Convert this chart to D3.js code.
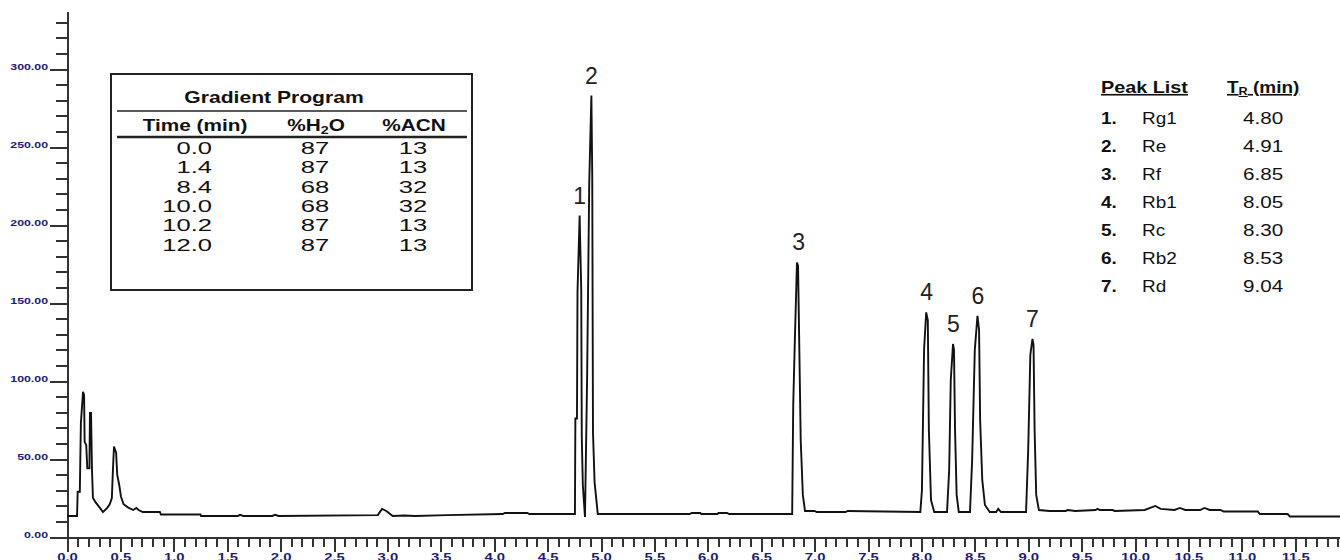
<!DOCTYPE html>
<html>
<head>
<meta charset="utf-8">
<script src="https://cdn.jsdelivr.net/npm/d3@7"></script>
<style>
  body { margin: 0; background: #fff; }
  svg { display: block; font-family: "Liberation Sans", Arial, sans-serif; }
  .axe path, .axe line { stroke: #333; stroke-width: 2; shape-rendering: crispEdges; }
  .axe text { fill: #1c1c7c; font-weight: bold; }
</style>
</head>
<body>
<svg id="graph" width="1340" height="560"></svg>
<script>
// chromatogramme : temps (min) et signal
var traceT = [0,0.094,0.10,0.12,0.13,0.15,0.16,0.165,0.18,0.19,0.21,0.215,0.225,0.234,0.243,0.27,0.31,0.337,0.375,0.40,
  0.42,0.43,0.44,0.46,0.47,0.49,0.505,0.53,0.57,0.62,0.65,0.67,0.71,0.87,0.88,1.25,1.255,1.60,1.62,1.65,
  1.92,1.95,1.98,2.91,2.95,2.99,3.05,3.16,3.26,3.56,4.08,4.10,4.31,4.33,4.756,4.76,4.775,4.78,4.80,4.81,
  4.815,4.82,4.83,4.85,4.87,4.89,4.91,4.918,4.925,4.94,4.97,5.83,5.85,5.93,5.94,6.09,6.10,6.18,6.20,6.79,
  6.80,6.815,6.835,6.845,6.855,6.87,6.89,6.91,7.0,7.02,7.29,7.31,7.99,8.005,8.025,8.045,8.06,8.07,8.09,8.12,
  8.24,8.26,8.275,8.296,8.305,8.315,8.33,8.35,8.455,8.475,8.50,8.525,8.54,8.55,8.57,8.595,8.64,8.70,8.72,8.745,
  8.98,9.00,9.02,9.04,9.05,9.06,9.075,9.10,9.20,9.35,9.37,9.44,9.63,9.65,9.67,9.79,9.81,10.09,10.19,10.24,
  10.37,10.42,10.47,10.61,10.65,10.70,10.80,10.83,11.15,11.17,11.43,11.45,11.92];
var traceV = [13.5,13.5,29,29,73,93,91,61,59,44,44,79.5,79.5,43,25,22,18.5,16,18.5,21,
  25,43,58,54,40,33,26,21,19,17.3,18.6,17.3,16,16,14.4,14.4,13.5,13.5,14.2,13.5,
  13.5,14.2,13.5,14,18,16.7,13.5,13.8,13.5,14,14.7,15.4,15.4,14.7,14.7,76,76,157,206,174,
  158,64,33,12.8,102,227.5,283,232,67,35,14.7,14.7,15.4,15.4,14.7,14.7,15.4,15.4,14.7,14.7,
  85,126,176,174,129.5,62,27,16.7,16.7,16,16,16.7,16,30,120,144,139,68.6,23.7,16,
  16,43,100.6,123.7,120,68.6,27,16,16,49,120,141.7,132.7,75,36.5,20.5,16,16,18,16,
  16,56,116.7,127,123,68.6,27,17.3,16.7,16.7,17.3,16.7,17.3,18,17.3,17.3,16.7,17.3,19.9,18,
  17.3,18.6,17.3,17.3,18.6,17.3,17.3,16.3,16.3,14.7,14.7,13.1,13.1];

// pics
var peakNum = ["1","2","3","4","5","6","7"];
var peakName = ["Rg1","Re","Rf","Rb1","Rc","Rb2","Rd"];
var peakTR = [4.80,4.91,6.85,8.05,8.30,8.53,9.04];
var peakTop = [206,283,176,144,124,141.7,127];

// programme de gradient
var gradTime = ["0.0","1.4","8.4","10.0","10.2","12.0"];
var gradH2O = ["87","87","68","68","87","87"];
var gradACN = ["13","13","32","32","13","13"];

// ticks
var yMajor = [0,50,100,150,200,250,300];
var yMinor = d3.range(10,331,10).filter(function(d){ return d % 50 !== 0; });
var xMajor = d3.range(0,11.51,0.5).map(function(d){ return +d.toFixed(1); });
var xMinor = d3.range(0,11.91,0.1).map(function(d){ return +d.toFixed(1); });

var svg = d3.select("#graph");

var scaleX = d3.scaleLinear().domain([0,11.92]).range([67,67+11.92*106.8]);
var scaleY = d3.scaleLinear().domain([0,337]).range([537,537-337*1.56]);

// étire le texte horizontalement
function stretch(sel, sx){
  sel.each(function(){
    var t = d3.select(this);
    var x = +t.attr("x") || 0;
    t.attr("x", x/sx).attr("transform", "scale(" + sx + ",1)");
  });
}

// axe Y
svg.append("g").attr("class","axe").attr("transform","translate(67,0)")
  .call(d3.axisLeft(scaleY).tickValues(yMinor).tickSize(11).tickSizeOuter(0).tickFormat(""));
var gy = svg.append("g").attr("class","axe").attr("transform","translate(67,0)")
  .call(d3.axisLeft(scaleY).tickValues(yMajor).tickSize(17).tickSizeOuter(0).tickPadding(2).tickFormat(d3.format(".2f")));
gy.selectAll("text").attr("dy","0.1em").attr("font-size",9.5);
stretch(gy.selectAll("text"), 1.3);

// axe X
svg.append("g").attr("class","axe").attr("transform","translate(0,537)")
  .call(d3.axisBottom(scaleX).tickValues(xMinor).tickSize(10).tickSizeOuter(0).tickFormat(""));
var gx = svg.append("g").attr("class","axe").attr("transform","translate(0,537)")
  .call(d3.axisBottom(scaleX).tickValues(xMajor).tickSize(15).tickSizeOuter(0).tickPadding(1).tickFormat(d3.format(".1f")));
gx.selectAll("text").attr("dy","0.72em").attr("font-size",11).attr("transform","scale(1.35,1)");

// courbe
var line = d3.line()
  .x(function(d,i){ return scaleX(traceT[i]); })
  .y(function(d){ return scaleY(d); });
svg.append("path").attr("class","courbe")
  .attr("d", line(traceV))
  .attr("fill","none").attr("stroke","#111").attr("stroke-width",1.9)
  .attr("stroke-linejoin","miter");

// numéros des pics
svg.append("g").selectAll("text").data(peakNum).enter().append("text")
  .attr("x", function(d,i){ return scaleX(peakTR[i]); })
  .attr("y", function(d,i){ return scaleY(peakTop[i]) - 12; })
  .attr("text-anchor","middle").attr("font-size",23).attr("fill","#222")
  .text(function(d){ return d; });

// tableau gradient
var tab = svg.append("g");
tab.append("rect").attr("x",111).attr("y",74).attr("width",361).attr("height",216)
  .attr("fill","#fff").attr("stroke","#222").attr("stroke-width",2);
tab.append("line").attr("x1",117).attr("x2",467).attr("y1",111).attr("y2",111).attr("stroke","#222").attr("stroke-width",1.5);
tab.append("line").attr("x1",117).attr("x2",467).attr("y1",137).attr("y2",137).attr("stroke","#222").attr("stroke-width",2.5);

function sText(g, x, y, txt, anchor, sx, size, bold){
  var t = g.append("text").attr("transform","translate(" + x + "," + y + ") scale(" + sx + ",1)")
    .attr("text-anchor",anchor).attr("font-size",size).attr("fill","#111");
  if(bold){ t.attr("font-weight","bold"); }
  t.text(txt);
  return t;
}
sText(tab, 274, 103, "Gradient Program", "middle", 1.32, 16, true);
sText(tab, 195, 131, "Time (min)", "middle", 1.3, 16, true);
var h2o = sText(tab, 316, 131, "", "middle", 1.3, 16, true);
h2o.append("tspan").text("%H");
h2o.append("tspan").attr("font-size",11).attr("dy",3).text("2");
h2o.append("tspan").attr("dy",-3).text("O");
sText(tab, 414, 131, "%ACN", "middle", 1.3, 16, true);
for(var i=0;i<gradTime.length;i++){
  var yy = 154 + i*19.3;
  sText(tab, 212, yy, gradTime[i], "end", 1.55, 16.5, false);
  sText(tab, 315, yy, gradH2O[i], "middle", 1.55, 16.5, false);
  sText(tab, 413, yy, gradACN[i], "middle", 1.55, 16.5, false);
}

// liste des pics
var pl = svg.append("g");
sText(pl, 1101, 93, "Peak List", "start", 1.2, 16.5, true).attr("text-decoration","underline");
var tr = sText(pl, 1227, 93, "", "start", 1.15, 16.5, true).attr("text-decoration","underline");
tr.append("tspan").text("T");
tr.append("tspan").attr("font-size",11).attr("dy",2).text("R");
tr.append("tspan").attr("dy",-2).text(" (min)");
for(var j=0;j<peakNum.length;j++){
  var yb = 124 + j*28;
  sText(pl, 1101, yb, peakNum[j] + ".", "start", 1.15, 16.5, true);
  sText(pl, 1142, yb, peakName[j], "start", 1.15, 16.5, false);
  sText(pl, 1243, yb, peakTR[j].toFixed(2), "start", 1.25, 16.5, false);
}
</script>
</body>
</html>
